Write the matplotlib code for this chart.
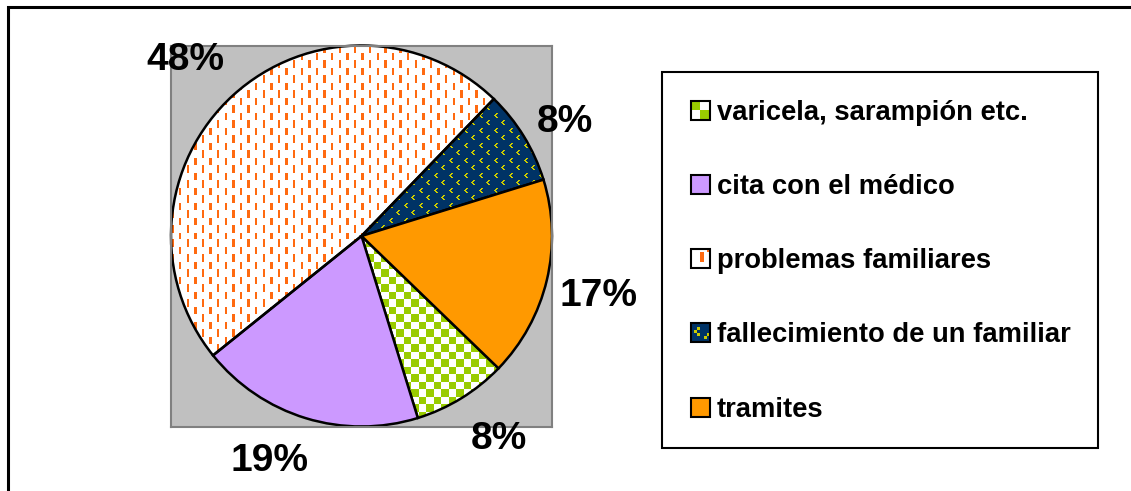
import numpy as np
import matplotlib
matplotlib.use('Agg')
import matplotlib.pyplot as plt
from matplotlib.patches import Rectangle
from matplotlib.legend_handler import HandlerBase
import matplotlib.colors as mcolors

# ---- data ----
categories = ['varicela, sarampión etc.', 'cita con el médico', 'problemas familiares',
              'fallecimiento de un familiar', 'tramites']
values = [8, 19, 48, 8, 17]

# ---- style ----
GREEN = '#99CC00'
LAV = '#CC99FF'
DASH = '#FF6A10'
NAVY = '#003366'
DOT = '#CCCC00'
ORANGE = '#FF9900'
WHITE = '#FFFFFF'
# small per-label nudges (screen px, +x right, +y down) to mimic Excel label placement
label_nudge_px = [(1, 11), (7, 11), (2, -7), (0, 11), (-2, -5)]

W, H = 1131, 491
plt.rcParams['font.family'] = ['Liberation Sans', 'DejaVu Sans']
fig = plt.figure(figsize=(W / 100, H / 100), dpi=100)

ax = fig.add_axes([171 / W, 1 - 427 / H, 381 / W, 382 / H])
ax.set_facecolor('#C0C0C0')

# textured wedges are drawn with no face; a clipped texture image sits below them
face = ['none', LAV, 'none', 'none', ORANGE]
wedges, texts, autotexts = ax.pie(
    values, colors=face, startangle=-44, counterclock=False, radius=1,
    autopct='%.0f%%', pctdistance=1.28, frame=True,
    wedgeprops=dict(edgecolor='black', linewidth=1.8),
    textprops=dict(fontsize=28, fontweight='bold', color='black'))

for w in wedges:
    w.set_zorder(2)

# place percentage labels outside the pie, Excel style (box adjacent to a point on the mid-angle)
px_per_unit = 190.0
for w, t, (nx, ny) in zip(wedges, autotexts, label_nudge_px):
    mid = np.deg2rad((w.theta1 + w.theta2) / 2)
    c, s = np.cos(mid), np.sin(mid)
    d = 1.08
    t.set_position((d * c + nx / px_per_unit,
                    d * s + np.sign(s) * 17 / px_per_unit - ny / px_per_unit))
    t.set_ha('left' if c > 0 else 'right')
    t.set_va('center')

# ---- textures (pixel patterns) ----
hp, wp = 382, 381
yy, xx = np.mgrid[0:hp, 0:wp].astype(float)


def rgb(c):
    return np.array(mcolors.to_rgb(c))


checker = ((np.floor(xx / 7.5) + np.floor(yy / 7.5)) % 2 == 0)
tex_var = np.where(checker[..., None], rgb(GREEN), rgb(WHITE))

col = np.floor(xx / 7.6)
dash = ((xx % 7.6) < 2.4) & (((yy + (col % 2) * 7.5) % 15) < 7.5)
tex_prob = np.where(dash[..., None], rgb(DASH), rgb(WHITE))

CHEV = np.array([[0, 0, 1, 1],
                 [0, 1, 1, 0],
                 [1, 1, 0, 0],
                 [0, 1, 1, 0],
                 [0, 0, 1, 1]], dtype=bool)


def chevron(lx, ly):
    lx = np.floor(lx).astype(int)
    ly = np.floor(ly).astype(int)
    ok = (lx < CHEV.shape[1]) & (ly < CHEV.shape[0])
    out = np.zeros(lx.shape, dtype=bool)
    out[ok] = CHEV[ly[ok], lx[ok]]
    return out


dots = chevron(xx % 15, yy % 15) | chevron((xx + 7.5) % 15, (yy + 7.5) % 15)
tex_fal = np.where(dots[..., None], rgb(DOT), rgb(NAVY))

for tex, idx in [(tex_var, 0), (tex_prob, 2), (tex_fal, 3)]:
    im = ax.imshow(tex, extent=(-1, 1, -1, 1), origin='upper',
                   interpolation='nearest', zorder=1)
    im.set_clip_path(wedges[idx])

ax.set_xlim(-1, 1)
ax.set_ylim(-1, 1)
ax.set_xticks([])
ax.set_yticks([])
for sp in ax.spines.values():
    sp.set_color('#808080')
    sp.set_linewidth(1.5)


# ---- legend ----
class GridHandler(HandlerBase):
    def __init__(self, grid):
        super().__init__()
        self.grid = grid

    def create_artists(self, legend, orig_handle, xdescent, ydescent,
                       width, height, fontsize, trans):
        arts = []
        n = len(self.grid)
        m = len(self.grid[0])
        for i, row in enumerate(self.grid):
            for j, c in enumerate(row):
                arts.append(Rectangle((-xdescent + j * width / m,
                                       -ydescent + height - (i + 1) * height / n),
                                      width / m, height / n, fc=c, ec='none',
                                      transform=trans))
        arts.append(Rectangle((-xdescent, -ydescent), width, height, fc='none',
                              ec='black', lw=1.5, transform=trans))
        return arts


G, Wt, O, N, Y = GREEN, WHITE, DASH, NAVY, DOT
grids = [
    [[G, G, Wt, Wt], [G, G, Wt, Wt], [Wt, Wt, G, G], [Wt, Wt, G, G]],
    [[LAV]],
    [[Wt, Wt, Wt, Wt, Wt, O], [Wt, Wt, Wt, O, Wt, Wt], [Wt, Wt, Wt, O, Wt, Wt],
     [Wt, Wt, Wt, O, Wt, Wt], [Wt, Wt, Wt, Wt, Wt, Wt], [Wt, Wt, Wt, Wt, Wt, Wt]],
    [[N, N, N, N, N, N], [N, N, Y, N, N, N], [N, Y, N, N, N, N],
     [N, N, Y, N, N, Y], [N, N, N, N, Y, N], [N, N, N, N, N, N]],
    [[ORANGE]],
]
hmap = {w: GridHandler(g) for w, g in zip(wedges, grids)}

leg = fig.legend(handles=wedges, labels=categories, handler_map=hmap,
                 loc='upper left', bbox_to_anchor=(691 / W, 1 - 100 / H),
                 bbox_transform=fig.transFigure, frameon=False, borderpad=0,
                 borderaxespad=0, handlelength=0.69, handleheight=0.69,
                 handletextpad=0.26, labelspacing=1.76,
                 prop=dict(weight='bold', size=19.7))

fig.add_artist(Rectangle((662 / W, 1 - 448 / H), (1098 - 662) / W, (448 - 72) / H,
                         transform=fig.transFigure, fill=False, ec='black', lw=1.5))
# outer chart frame (cut off at right and bottom)
fig.add_artist(Rectangle((7.5 / W, -0.1), 1.2, 1 - 6.5 / H + 0.1,
                         transform=fig.transFigure, fill=False, ec='black', lw=2.2))

fig.savefig('out.png', dpi=100)
